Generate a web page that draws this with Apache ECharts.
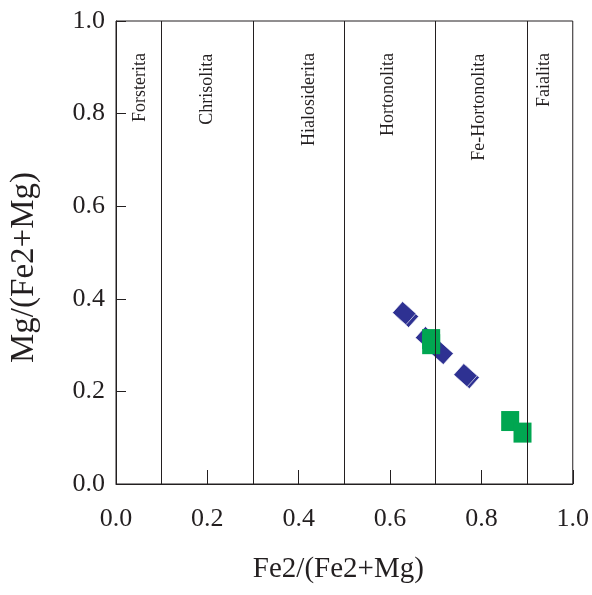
<!DOCTYPE html>
<html>
<head>
<meta charset="utf-8">
<script src="https://cdn.jsdelivr.net/npm/echarts@6/dist/echarts.min.js"></script>
<style>
  html, body { margin: 0; padding: 0; background: #fff; }
  #chart { width: 592px; height: 595px; }
</style>
</head>
<body>
<div id="chart"></div>
<script>
// Olivine classification: Fe2/(Fe2+Mg) vs Mg/(Fe2+Mg)
var xTicks = [0.0, 0.2, 0.4, 0.6, 0.8, 1.0];
var yTicks = [0.0, 0.2, 0.4, 0.6, 0.8, 1.0];

// Field boundaries along Fe2/(Fe2+Mg)
var zoneBounds = [0.1, 0.3, 0.5, 0.7, 0.9];
var zoneNames = ['Forsterita', 'Chrisolita', 'Hialosiderita', 'Hortonolita', 'Fe-Hortonolita', 'Faialita'];
var zoneLabelX = [0.054, 0.200, 0.424, 0.597, 0.795, 0.937];
var zoneLabelY = [0.931, 0.929, 0.931, 0.931, 0.929, 0.931];

// Analyses (diamonds)
var diamondX = [0.637, 0.631, 0.681, 0.713, 0.770, 0.765];
var diamondY = [0.363, 0.369, 0.315, 0.283, 0.231, 0.235];

// Analyses (squares)
var squareX = [0.690, 0.690, 0.863, 0.890];
var squareY = [0.313, 0.302, 0.136, 0.111];

var SERIF = '"Liberation Serif", "Times New Roman", serif';
var INK = '#231f20';

function pairs(xs, ys) {
  return xs.map(function (x, i) { return [x, ys[i]]; });
}

var zoneData = zoneNames.map(function (n, i) {
  return { name: n, value: [zoneLabelX[i], zoneLabelY[i]] };
});

var chart = echarts.init(document.getElementById('chart'), null, { renderer: 'canvas' });

chart.setOption({
  backgroundColor: '#ffffff',
  animation: false,
  grid: {
    left: 111, right: 17, top: 21, bottom: 111,
    show: true, borderColor: INK, borderWidth: 1, backgroundColor: 'transparent'
  },
  xAxis: {
    type: 'value', min: 0, max: 1, interval: 0.2,
    name: 'Fe2/(Fe2+Mg)', nameLocation: 'middle', nameGap: 71,
    nameTextStyle: { fontFamily: SERIF, fontSize: 29, color: INK, padding: [0, 12, 0, 0] },
    axisLine: { show: true, lineStyle: { color: INK, width: 1 } },
    axisTick: { show: true, inside: true, length: 14, lineStyle: { color: INK, width: 1 } },
    axisLabel: {
      margin: 22, fontFamily: SERIF, fontSize: 26, color: INK,
      formatter: function (v) { return v.toFixed(1); }
    },
    splitLine: { show: false }
  },
  yAxis: {
    type: 'value', min: 0, max: 1, interval: 0.2,
    name: 'Mg/(Fe2+Mg)', nameLocation: 'middle', nameGap: 75,
    nameTextStyle: { fontFamily: SERIF, fontSize: 33, color: INK, padding: [0, 30, 0, 0] },
    axisLine: { show: true, lineStyle: { color: INK, width: 1 } },
    axisTick: { show: true, inside: true, length: 10, lineStyle: { color: INK, width: 1 } },
    axisLabel: {
      margin: 11, fontFamily: SERIF, fontSize: 26, color: INK,
      formatter: function (v) { return v.toFixed(1); }
    },
    splitLine: { show: false }
  },
  series: [
    {
      name: 'fields',
      type: 'scatter',
      silent: true,
      symbol: 'circle',
      symbolSize: 2,
      itemStyle: { color: 'rgba(0,0,0,0)', opacity: 0 },
      data: zoneData,
      label: {
        show: true,
        formatter: '{b}',
        position: 'inside',
        rotate: 90,
        align: 'right',
        verticalAlign: 'middle',
        fontFamily: SERIF,
        fontSize: 18,
        color: INK,
        opacity: 1
      },
      labelLayout: { hideOverlap: false },
      markLine: {
        silent: true,
        symbol: 'none',
        animation: false,
        label: { show: false },
        lineStyle: { color: INK, width: 1, type: 'solid', opacity: 1 },
        data: zoneBounds.map(function (v) { return { xAxis: v }; })
      }
    },
    {
      name: 'diamonds',
      type: 'scatter',
      symbol: 'rect',
      symbolSize: [18, 15],
      symbolRotate: -42,
      itemStyle: { color: '#2e3192', opacity: 1, borderColor: '#ffffff', borderWidth: 0.6 },
      data: pairs(diamondX, diamondY)
    },
    {
      name: 'squares',
      type: 'scatter',
      symbol: 'rect',
      symbolSize: [18, 20],
      itemStyle: { color: '#00a651', opacity: 1 },
      data: pairs(squareX, squareY)
    }
  ]
});
</script>
</body>
</html>
